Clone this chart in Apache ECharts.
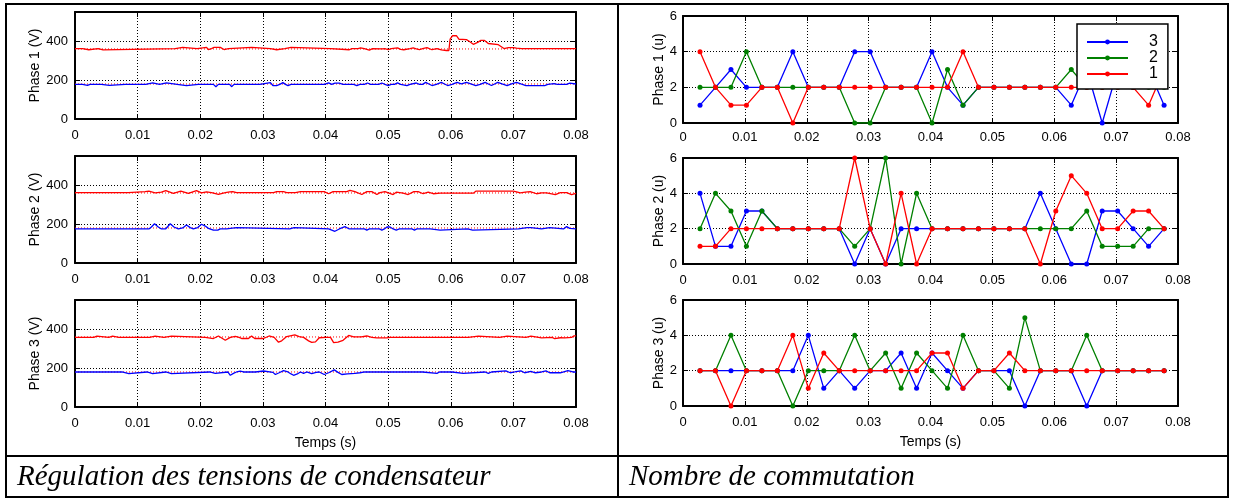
<!DOCTYPE html>
<html><head><meta charset="utf-8">
<script src="https://cdn.jsdelivr.net/npm/echarts@6/dist/echarts.min.js"></script>
<style>html,body{margin:0;padding:0;background:#fff}#c{width:1236px;height:499px}</style>
</head><body><div id="c"></div>
<script>
// ---------- DATA ----------
const phaseNamesV = ['Phase 1 (V)', 'Phase 2 (V)', 'Phase 3 (V)'];
const phaseNamesU = ['Phase 1 (u)', 'Phase 2 (u)', 'Phase 3 (u)'];
const xLabel = 'Temps (s)';
const captionLeft = 'Régulation des tensions de condensateur';
const captionRight = 'Nombre de commutation';
const legendNames = ['3', '2', '1'];

// reference levels (V)
const refUpper = 360;
const refLower = 180;

// capacitor voltages [t (s), V]
const vP1Upper = [[0,362],[0.0012,362],[0.0015,356],[0.0022,356],[0.0025,362],[0.0037,362],[0.004,355],[0.0045,355],[0.0048,362],[0.016,362],[0.0163,368],[0.0172,368],[0.0175,362],[0.0195,362],[0.0198,368],[0.021,368],[0.0213,357],[0.0218,362],[0.0222,368],[0.0232,368],[0.0238,357],[0.0245,362],[0.0248,368],[0.0282,368],[0.0285,362],[0.0312,362],[0.0315,356],[0.0322,356],[0.0325,362],[0.0335,362],[0.0338,368],[0.0345,368],[0.0348,362],[0.0408,362],[0.041,356],[0.0438,356],[0.0442,362],[0.0452,362],[0.0456,366],[0.0462,362],[0.047,354],[0.0475,362],[0.049,360],[0.0495,362],[0.05,356],[0.0505,362],[0.0515,366],[0.052,358],[0.0525,356],[0.0535,362],[0.054,366],[0.0545,360],[0.055,356],[0.0555,362],[0.0562,367],[0.057,356],[0.0578,362],[0.0585,355],[0.0593,352],[0.0597,352],[0.0599,410],[0.0603,428],[0.0609,428],[0.0613,410],[0.0625,408],[0.063,398],[0.0636,384],[0.0643,394],[0.0648,404],[0.0654,404],[0.066,388],[0.0676,382],[0.0685,362],[0.0692,367],[0.07,367],[0.0705,364],[0.0713,362],[0.0745,362],[0.0748,354],[0.0752,362],[0.08,362]];
const vP1Lower = [[0,178],[0.0012,178],[0.0015,173],[0.002,173],[0.0024,178],[0.0042,178],[0.0045,173],[0.0055,173],[0.0058,178],[0.008,178],[0.0082,172],[0.0085,178],[0.0113,178],[0.0116,186],[0.0124,186],[0.0127,178],[0.0135,178],[0.0138,186],[0.0146,186],[0.0149,178],[0.0163,178],[0.0166,172],[0.0178,172],[0.0181,178],[0.0197,178],[0.02,173],[0.0205,178],[0.0221,178],[0.0225,166],[0.0229,178],[0.0247,178],[0.025,166],[0.0254,178],[0.0295,178],[0.0298,187],[0.0312,187],[0.0316,172],[0.0322,172],[0.0327,178],[0.0332,187],[0.0336,178],[0.034,172],[0.0345,178],[0.0398,178],[0.0405,186],[0.041,178],[0.0415,184],[0.0422,184],[0.0428,178],[0.0445,178],[0.045,172],[0.0455,178],[0.0462,178],[0.0467,185],[0.0472,178],[0.0485,178],[0.049,185],[0.0495,178],[0.05,172],[0.0505,178],[0.051,178],[0.0515,186],[0.052,178],[0.0523,172],[0.053,172],[0.0535,178],[0.0545,185],[0.055,178],[0.0555,178],[0.056,188],[0.0565,180],[0.057,172],[0.0577,178],[0.0585,188],[0.059,180],[0.0595,172],[0.0602,178],[0.061,188],[0.0617,180],[0.0625,188],[0.0632,180],[0.064,172],[0.0647,178],[0.0655,188],[0.066,180],[0.0665,172],[0.067,180],[0.0675,188],[0.0682,180],[0.069,172],[0.0697,180],[0.0705,188],[0.0712,180],[0.072,172],[0.075,172],[0.0755,178],[0.0765,182],[0.077,178],[0.0785,178],[0.079,184],[0.08,180]];
const vP2Upper = [[0,362],[0.0085,362],[0.0087,367],[0.0112,367],[0.0118,370],[0.0128,360],[0.0138,364],[0.0145,372],[0.0157,358],[0.0169,370],[0.0181,358],[0.0194,372],[0.0202,360],[0.021,366],[0.0218,362],[0.0229,353],[0.024,362],[0.0247,366],[0.0252,367],[0.0258,362],[0.0317,362],[0.0322,367],[0.0333,367],[0.0338,362],[0.0352,362],[0.0355,367],[0.036,367],[0.0398,367],[0.0405,356],[0.0412,367],[0.0434,367],[0.0439,373],[0.0447,367],[0.0458,352],[0.0466,367],[0.0474,367],[0.0482,352],[0.0487,362],[0.0495,367],[0.0508,352],[0.0513,364],[0.0524,359],[0.0532,352],[0.0541,367],[0.0548,367],[0.0556,356],[0.0564,364],[0.0572,356],[0.0583,359],[0.0636,359],[0.064,369],[0.07,369],[0.0705,366],[0.0711,360],[0.0719,364],[0.0727,367],[0.0737,356],[0.0745,360],[0.0753,360],[0.0767,352],[0.0775,362],[0.0785,362],[0.0793,352],[0.08,358]];
const vP2Lower = [[0,175],[0.0118,175],[0.0122,185],[0.0127,202],[0.0133,185],[0.0138,175],[0.0145,176],[0.0152,202],[0.0158,185],[0.0165,175],[0.0172,180],[0.0178,195],[0.0184,182],[0.0189,175],[0.0196,182],[0.0202,199],[0.0208,190],[0.0213,178],[0.0221,169],[0.0228,169],[0.0232,175],[0.0242,175],[0.0244,182],[0.0258,182],[0.026,175],[0.0343,175],[0.0346,182],[0.035,182],[0.0352,175],[0.0405,175],[0.0415,163],[0.0422,175],[0.0431,187],[0.0438,175],[0.0462,175],[0.0466,169],[0.047,175],[0.0486,175],[0.049,169],[0.0494,175],[0.0498,185],[0.0503,185],[0.0508,175],[0.0513,169],[0.0518,175],[0.0538,175],[0.0542,169],[0.0546,175],[0.0567,175],[0.057,169],[0.0583,169],[0.0586,175],[0.0627,175],[0.063,169],[0.0635,169],[0.0638,175],[0.0708,175],[0.071,182],[0.0722,182],[0.0725,175],[0.0728,182],[0.073,175],[0.0745,175],[0.0748,182],[0.0758,182],[0.076,175],[0.078,175],[0.0785,187],[0.079,178],[0.08,175]];
const vP3Upper = [[0,358],[0.003,358],[0.0032,364],[0.0035,364],[0.0037,358],[0.0054,358],[0.0056,364],[0.006,364],[0.0062,358],[0.007,358],[0.0072,364],[0.0075,358],[0.0119,358],[0.0121,364],[0.0128,364],[0.013,358],[0.0142,358],[0.0144,364],[0.0154,364],[0.0156,358],[0.0208,358],[0.021,352],[0.0221,352],[0.0229,365],[0.024,343],[0.0248,358],[0.0256,363],[0.0262,358],[0.0266,352],[0.0277,352],[0.0282,365],[0.0287,352],[0.0301,352],[0.031,365],[0.0318,358],[0.0325,333],[0.033,340],[0.0338,362],[0.0351,371],[0.0358,362],[0.0365,358],[0.0373,340],[0.0378,332],[0.0384,335],[0.039,356],[0.0402,358],[0.0408,358],[0.0413,331],[0.042,333],[0.0428,343],[0.0437,368],[0.0445,360],[0.0457,360],[0.0466,365],[0.0474,358],[0.0482,355],[0.0498,355],[0.0503,358],[0.0585,358],[0.0588,365],[0.0593,358],[0.061,358],[0.0613,364],[0.0618,358],[0.0628,358],[0.063,364],[0.0644,364],[0.0647,358],[0.0678,358],[0.068,364],[0.069,364],[0.0692,358],[0.072,358],[0.0722,364],[0.0728,364],[0.073,358],[0.0745,355],[0.0762,358],[0.0766,351],[0.0775,356],[0.0782,355],[0.0793,358],[0.0797,366],[0.08,366]];
const vP3Lower = [[0,180],[0.0075,180],[0.0078,172],[0.0086,172],[0.0088,180],[0.0115,180],[0.0117,172],[0.0124,172],[0.0126,180],[0.0145,180],[0.0147,172],[0.0154,172],[0.0156,180],[0.0215,180],[0.0217,173],[0.0224,173],[0.0226,180],[0.0244,180],[0.0248,163],[0.0253,173],[0.0258,180],[0.0264,185],[0.0269,180],[0.0288,180],[0.029,185],[0.0301,185],[0.0304,180],[0.0316,178],[0.032,167],[0.0326,176],[0.0333,187],[0.034,180],[0.0345,170],[0.0349,163],[0.0355,170],[0.036,180],[0.0365,173],[0.037,180],[0.0378,172],[0.0385,178],[0.039,180],[0.0398,167],[0.0405,176],[0.0414,191],[0.042,178],[0.0426,167],[0.0435,170],[0.0447,173],[0.0455,176],[0.0463,180],[0.0555,180],[0.0558,173],[0.0578,173],[0.0582,180],[0.0602,180],[0.0605,173],[0.062,173],[0.0623,180],[0.0655,180],[0.066,173],[0.0665,180],[0.0688,186],[0.0695,176],[0.0702,180],[0.0712,186],[0.0718,176],[0.0728,183],[0.0735,176],[0.0745,180],[0.0752,186],[0.0758,176],[0.0775,176],[0.0787,187],[0.0795,180],[0.08,180]];

// switching instants (s)
const switchTimes = [0.00275,0.00525,0.00775,0.01025,0.01275,0.01525,0.01775,0.02025,0.02275,0.02525,0.02775,0.03025,0.03275,0.03525,0.03775,0.04025,0.04275,0.04525,0.04775,0.05025,0.05275,0.05525,0.05775,0.06025,0.06275,0.06525,0.06775,0.07025,0.07275,0.07525,0.07775];
// switching counts per cell (legend 3, 2, 1)
const p1Cell3 = [1,2,3,2,2,2,4,2,2,2,4,4,2,2,2,4,2,1,2,2,2,2,2,2,1,3,0,3,2,3,1];
const p1Cell2 = [2,2,2,4,2,2,2,2,2,2,0,0,2,2,2,0,3,1,2,2,2,2,2,2,3,2,2,2,2,2,2];
const p1Cell1 = [4,2,1,1,2,2,0,2,2,2,2,2,2,2,2,2,2,4,2,2,2,2,2,2,2,2,2,2,2,1,3];
const p2Cell3 = [4,1,1,3,3,2,2,2,2,2,0,2,0,2,2,2,2,2,2,2,2,2,4,2,0,0,3,3,2,1,2];
const p2Cell2 = [2,4,3,1,3,2,2,2,2,2,1,2,6,0,4,2,2,2,2,2,2,2,2,2,2,3,1,1,1,2,2];
const p2Cell1 = [1,1,2,2,2,2,2,2,2,2,6,2,0,4,0,2,2,2,2,2,2,2,0,3,5,4,2,2,3,3,2];
const p3Cell3 = [2,2,2,2,2,2,2,4,1,2,1,2,2,3,1,3,2,1,2,2,2,0,2,2,2,0,2,2,2,2,2];
const p3Cell2 = [2,2,4,2,2,2,0,2,2,2,4,2,3,1,3,2,1,4,2,2,1,5,2,2,2,4,2,2,2,2,2];
const p3Cell1 = [2,2,0,2,2,2,4,1,3,2,2,2,2,2,2,3,3,1,2,2,3,2,2,2,2,2,2,2,2,2,2];

// ---------- LAYOUT ----------
const FONT = 'Liberation Sans';
const BLUE = '#0000ff', GREEN = '#008000', RED = '#ff0000';
const gridsDef = [
  {left:75, top:12, width:501, height:107},
  {left:75, top:156, width:501, height:107},
  {left:75, top:300, width:501, height:107},
  {left:683, top:16, width:495, height:107},
  {left:683, top:158, width:495, height:106},
  {left:683, top:300, width:495, height:106}
];
const xLabelMargins = [10, 10, 10, 8, 10, 10];
const xFmt = v => (Math.abs(v) < 1e-9 ? '0' : v.toFixed(2));

const xAxes = [], yAxes = [], series = [];
gridsDef.forEach((g, i) => {
  const isLeft = i < 3;
  const row = i % 3;
  const common = {
    axisLine:{show:true, onZero:false, lineStyle:{color:'#000', width:2}},
    axisTick:{show:true, inside:true, length:5, lineStyle:{color:'#000', width:1}}
  };
  xAxes.push(Object.assign({type:'value', gridIndex:i, position:'bottom', min:0, max:0.08, interval:0.01,
    axisLabel:{show:true, margin:xLabelMargins[i], fontSize:13, color:'#000', fontFamily:FONT, formatter:xFmt},
    splitLine:{show:true, lineStyle:{color:'#000', type:[1,2], width:1}},
    name: row === 2 ? xLabel : '', nameLocation:'middle', nameGap:29,
    nameTextStyle:{fontSize:14, color:'#000', fontFamily:FONT}}, common));
  xAxes.push(Object.assign({type:'value', gridIndex:i, position:'top', min:0, max:0.08, interval:0.01,
    axisLabel:{show:false}, splitLine:{show:false}}, common));
  const yMax = isLeft ? 550 : 6, yInt = isLeft ? 200 : 2;
  yAxes.push(Object.assign({type:'value', gridIndex:i, position:'left', min:0, max:yMax, interval:yInt,
    axisLabel:{show:true, margin:isLeft ? 7 : 6, fontSize:13, color:'#000', fontFamily:FONT, showMaxLabel: !isLeft},
    splitLine:{show:true, lineStyle:{color:'#000', type:[1,2], width:1}},
    name: isLeft ? phaseNamesV[row] : phaseNamesU[row], nameLocation:'middle', nameGap: isLeft ? 33 : 16,
    nameTextStyle:{fontSize:14, color:'#000', fontFamily:FONT}}, common));
  yAxes.push(Object.assign({type:'value', gridIndex:i, position:'right', min:0, max:yMax, interval:yInt,
    axisLabel:{show:false}, splitLine:{show:false}}, common));
});

const vUpper = [vP1Upper, vP2Upper, vP3Upper];
const vLower = [vP1Lower, vP2Lower, vP3Lower];
for (let r = 0; r < 3; r++) {
  const xi = 2*r, yi = 2*r;
  [refUpper, refLower].forEach((lvl, k) => series.push({
    type:'line', name:'ref'+r+'_'+k, xAxisIndex:xi, yAxisIndex:yi, showSymbol:false, silent:true,
    data:[[0,lvl],[0.08,lvl]], lineStyle:{color:RED, width:1, type:[1,2]}, z:2
  }));
  series.push({type:'line', name:'Vc haut '+(r+1), xAxisIndex:xi, yAxisIndex:yi, showSymbol:false,
    data:vUpper[r], lineStyle:{color:RED, width:1.3}, itemStyle:{color:RED}, z:3});
  series.push({type:'line', name:'Vc bas '+(r+1), xAxisIndex:xi, yAxisIndex:yi, showSymbol:false,
    data:vLower[r], lineStyle:{color:BLUE, width:1.3}, itemStyle:{color:BLUE}, z:4});
}

const counts = [[p1Cell3,p1Cell2,p1Cell1],[p2Cell3,p2Cell2,p2Cell1],[p3Cell3,p3Cell2,p3Cell1]];
const colors = [BLUE, GREEN, RED];
for (let r = 0; r < 3; r++) {
  const gi = 3 + r;
  counts[r].forEach((arr, k) => series.push({
    type:'line', name:legendNames[k], xAxisIndex:2*gi, yAxisIndex:2*gi,
    symbol:'circle', symbolSize:5, showSymbol:true,
    data: switchTimes.map((t, j) => [t, arr[j]]),
    lineStyle:{color:colors[k], width:1.3}, itemStyle:{color:colors[k]}, z:3+k
  }));
}

const chart = echarts.init(document.getElementById('c'), null, {renderer:'canvas'});
chart.setOption({
  animation:false,
  backgroundColor:'#fff',
  textStyle:{fontFamily:FONT},
  grid: gridsDef.map(g => Object.assign({containLabel:false}, g)),
  xAxis: xAxes,
  yAxis: yAxes,
  legend:{
    data:legendNames, orient:'vertical', left:1077, top:24, selectedMode:false,
    backgroundColor:'#fff', borderColor:'#000', borderWidth:1.5, padding:[10,10,7,9],
    itemWidth:41, itemHeight:6, itemGap:0,
    textStyle:{fontSize:16, color:'#000', fontFamily:FONT, lineHeight:16, padding:[0,0,0,16]},
    z:10
  },
  series: series,
  graphic:[
    {type:'rect', shape:{x:6, y:4, width:1222, height:493}, style:{fill:'none', stroke:'#000', lineWidth:2}, z:100},
    {type:'line', shape:{x1:618, y1:4, x2:618, y2:497}, style:{stroke:'#000', lineWidth:2}, z:100},
    {type:'line', shape:{x1:6, y1:456, x2:1228, y2:456}, style:{stroke:'#000', lineWidth:2}, z:100},
    {type:'text', x:17, y:477, style:{text:captionLeft, font:'italic 29px "Liberation Serif"', fill:'#000', textVerticalAlign:'middle'}, z:100},
    {type:'text', x:629, y:477, style:{text:captionRight, font:'italic 29px "Liberation Serif"', fill:'#000', textVerticalAlign:'middle'}, z:100}
  ]
});
</script></body></html>
